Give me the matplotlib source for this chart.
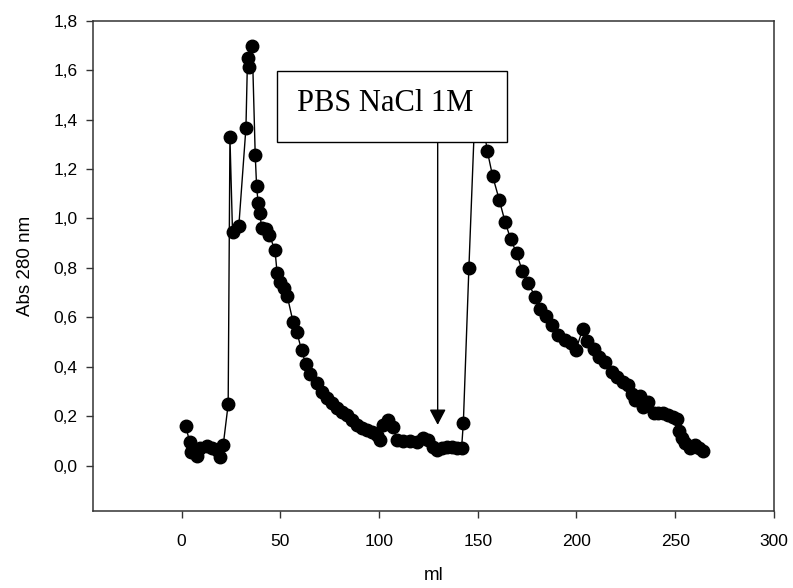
import matplotlib
matplotlib.use("Agg")
import matplotlib.pyplot as plt
from matplotlib.patches import Rectangle
from matplotlib.ticker import FuncFormatter

# elution volume (ml) and absorbance
ml = [2.0, 4.2, 4.8, 7.6, 9.3, 12.7, 15.2, 17.7, 19.4, 21.1, 23.6, 24.5, 25.8, 29.0,
      32.6, 33.4, 34.2, 35.8, 37.3, 38.0, 38.8, 39.7, 40.5, 42.7, 44.4, 47.3, 48.4,
      49.8, 51.8, 53.5, 56.5, 58.3, 60.8, 62.9, 65.0, 68.4, 70.9, 73.5, 76.0, 78.5,
      81.0, 83.6, 86.1, 88.7, 91.2, 93.7, 96.3, 98.8, 100.5, 102.1, 104.4, 107.2,
      108.9, 112.3, 115.7, 119.0, 122.4, 124.9, 127.5, 129.2, 131.7, 134.2, 136.8,
      139.3, 141.8, 142.7, 145.5, 148.5, 150.8, 153.2, 154.8, 157.5, 160.9, 163.8,
      166.7, 169.7, 172.5, 175.6, 179.0, 181.5, 184.5, 187.4, 190.8, 194.2, 197.1,
      199.7, 203.1, 205.5, 208.9, 211.6, 214.4, 217.8, 220.7, 223.4, 226.2, 227.9,
      229.6, 232.2, 233.9, 236.4, 239.0, 241.4, 244.0, 246.5, 249.0, 250.8, 251.9,
      253.3, 255.0, 257.5, 260.0, 262.2, 264.2]
absorb = [0.161, 0.095, 0.057, 0.039, 0.07, 0.08, 0.07, 0.064, 0.036, 0.084, 0.248,
          1.328, 0.945, 0.97, 1.367, 1.65, 1.614, 1.698, 1.257, 1.131, 1.061, 1.021,
          0.96, 0.956, 0.933, 0.873, 0.778, 0.744, 0.718, 0.687, 0.58, 0.542, 0.467,
          0.41, 0.37, 0.333, 0.30, 0.273, 0.252, 0.232, 0.218, 0.205, 0.185, 0.165,
          0.151, 0.144, 0.138, 0.124, 0.104, 0.165, 0.185, 0.158, 0.104, 0.101, 0.101,
          0.097, 0.11, 0.104, 0.077, 0.064, 0.07, 0.077, 0.077, 0.07, 0.07, 0.174,
          0.798, 1.42, 1.50, 1.36, 1.274, 1.172, 1.075, 0.987, 0.916, 0.859, 0.788,
          0.738, 0.684, 0.633, 0.606, 0.569, 0.529, 0.508, 0.495, 0.468, 0.552, 0.506,
          0.471, 0.441, 0.421, 0.38, 0.358, 0.34, 0.327, 0.29, 0.266, 0.282, 0.239,
          0.259, 0.214, 0.212, 0.212, 0.205, 0.198, 0.189, 0.142, 0.111, 0.091, 0.07,
          0.084, 0.07, 0.06]

xticks = [0, 50, 100, 150, 200, 250, 300]
yticks = [0.0, 0.2, 0.4, 0.6, 0.8, 1.0, 1.2, 1.4, 1.6, 1.8]
label_text = "PBS NaCl 1M"
salt_ml = 129.7

plt.rcParams['font.family'] = ['Liberation Sans', 'DejaVu Sans']

fig = plt.figure(figsize=(7.93, 5.88), dpi=100)
ax = fig.add_axes([0.1169, 0.1315, 0.976 - 0.1169, 0.9648 - 0.1315])

ax.plot(ml, absorb, color='black', lw=1.0, marker='o', ms=9,
        markerfacecolor='black', markeredgecolor='black', zorder=3)

ax.set_xlim(-45, 300)
ax.set_ylim(-0.182, 1.8)
ax.set_xticks(xticks)
ax.set_yticks(yticks)
ax.yaxis.set_major_formatter(FuncFormatter(lambda v, p: f"{v:.1f}".replace('.', ',')))
ax.tick_params(direction='out', length=5, width=1, labelsize=12.5, pad=6, color='#333333')
ax.tick_params(axis='x', pad=12)
for s in ax.spines.values():
    s.set_color('#333333')
    s.set_linewidth(1.1)

ax.set_xlabel('ml', fontsize=13.5, labelpad=13)
ax.set_ylabel('Abs 280 nm', fontsize=13.5, labelpad=14)

# annotation box + arrow for the salt step
ax.annotate('', xy=(salt_ml, 0.165), xytext=(salt_ml, 1.31),
            arrowprops=dict(arrowstyle='-|>,head_length=0.95,head_width=0.5',
                            color='black', lw=1.0, mutation_scale=10,
                            shrinkA=0, shrinkB=0), zorder=4)
ax.add_patch(Rectangle((48.3, 1.31), 116.3, 0.287, facecolor='white',
                       edgecolor='black', lw=1.0, zorder=5))
ax.text(58.3, 1.435, label_text, family=['Liberation Serif', 'DejaVu Serif'],
        fontsize=22, va='baseline', ha='left', zorder=6)

fig.savefig('out.png', dpi=100)
